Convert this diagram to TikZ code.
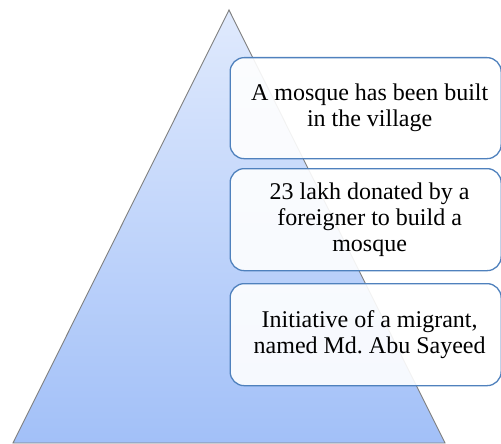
\documentclass[tikz,border=0pt]{standalone}
\usepackage{fontspec}
\setmainfont{Liberation Serif}
\frenchspacing
\definecolor{triTop}{HTML}{E0EAFD}
\definecolor{triBot}{HTML}{A2C0F8}
\definecolor{triEdge}{HTML}{7F7F7F}
\definecolor{boxEdge}{HTML}{4F81BD}
\begin{document}
\begin{tikzpicture}[x=1pt,y=-1pt,
  boxstyle/.style={draw=boxEdge,line width=1.3pt,rounded corners=14pt,fill=white,fill opacity=0.9},
  txt/.style={align=center,font=\fontsize{24}{26}\selectfont,text=black}]
\useasboundingbox (0,0) rectangle (501,444);
\shade[top color=triTop,bottom color=triBot,draw=triEdge,line width=0.9pt]
  (229,10) coordinate (apex) -- (445,443) coordinate (br) -- (13,443) coordinate (bl) -- cycle;
\node[boxstyle,minimum width=271pt,minimum height=101pt,anchor=north west] (b1) at (229.5,57) {};
\node[boxstyle,minimum width=271pt,minimum height=102pt,anchor=north west] (b2) at (229.5,168) {};
\node[boxstyle,minimum width=271pt,minimum height=102pt,anchor=north west] (b3) at (229.5,283) {};
\node[txt] (t1) at ([xshift=4pt]b1.center) {A mosque has been built\\in the village};
\node[txt] (t2) at ([xshift=4pt]b2.center) {23 lakh donated by a\\foreigner to build a\\mosque};
\node[txt] (t3) at ([xshift=4pt]b3.center) {Initiative of a migrant,\\named Md. Abu Sayeed};
\end{tikzpicture}
\end{document}
